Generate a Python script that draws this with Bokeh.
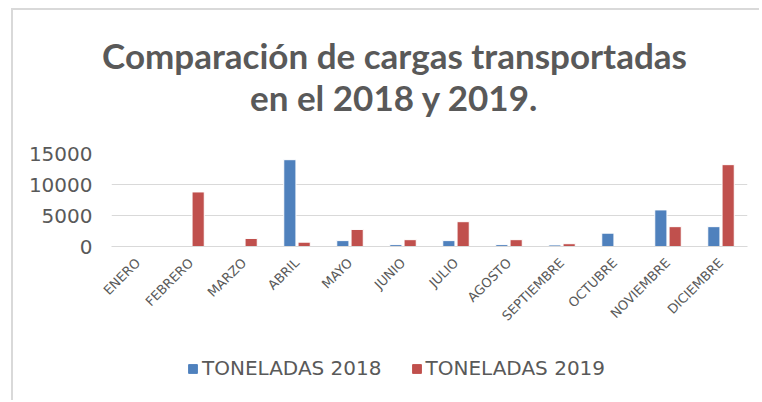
import math
from bokeh.plotting import figure
from bokeh.layouts import column
from bokeh.models import ColumnDataSource, FactorRange, Range1d, FixedTicker, Legend, LegendItem, Label
from bokeh.transform import dodge
from bokeh.embed import file_html
from bokeh.resources import INLINE

months = ["ENERO", "FEBRERO", "MARZO", "ABRIL", "MAYO", "JUNIO", "JULIO",
          "AGOSTO", "SEPTIEMBRE", "OCTUBRE", "NOVIEMBRE", "DICIEMBRE"]
ton_2018 = [0, 0, 0, 14000, 950, 300, 950, 300, 250, 2150, 5900, 3200]
ton_2019 = [0, 8800, 1300, 700, 2750, 1100, 4000, 1100, 450, 0, 3200, 13200]
y_ticks = [0, 5000, 10000, 15000]
series_names = ["TONELADAS 2018", "TONELADAS 2019"]
title_lines = ["Comparación de cargas transportadas", "en el 2018 y 2019."]
colors = ["#4F81BD", "#C0504D"]

src = ColumnDataSource(dict(m=months, a=ton_2018, b=ton_2019))

GREY = "#595959"
W = 746

# ---- title strip ----
TH = 130
pt = figure(width=W, height=TH, x_range=Range1d(0, W), y_range=Range1d(0, TH),
            output_backend="svg", toolbar_location=None, min_border=0)
pt.axis.visible = False
pt.grid.visible = False
pt.outline_line_color = None
pt.title = None
try:
    pt.frame_align = False   # let the title strip use its full width (no frame alignment)
    title_x = 381
except Exception:
    title_x = 339
for txt, yy in zip(title_lines, [86, 44]):
    pt.add_layout(Label(x=title_x, y=yy, text=txt, text_align="center", text_baseline="middle",
                        text_font="Lato", text_font_style="bold", text_font_size="35px",
                        text_color=GREY))

# ---- main chart ----
p = figure(x_range=FactorRange(*months), y_range=Range1d(0, 15000),
           width=W, height=200, output_backend="svg", toolbar_location=None,
           min_border_left=98, min_border_right=12, min_border_top=13, min_border_bottom=94)
p.title = None

r1 = p.vbar(x=dodge("m", -0.135, range=p.x_range), top="a", width=0.23, source=src,
            fill_color=colors[0], line_color="white", line_width=1)
r2 = p.vbar(x=dodge("m", 0.135, range=p.x_range), top="b", width=0.23, source=src,
            fill_color=colors[1], line_color="white", line_width=1)

p.outline_line_color = None
p.xgrid.grid_line_color = None
p.ygrid.grid_line_color = "#d9d9d9"
p.ygrid.grid_line_width = 1
p.yaxis.ticker = FixedTicker(ticks=y_ticks)
p.yaxis.axis_line_color = None
p.yaxis.major_tick_line_color = None
p.yaxis.minor_tick_line_color = None
p.yaxis.major_label_text_font = "DejaVu Sans"
p.yaxis.major_label_text_font_size = "20px"
p.yaxis.major_label_text_color = GREY
p.yaxis.major_label_standoff = 13

p.xaxis.axis_line_color = "#d9d9d9"
p.xaxis.major_tick_line_color = None
p.xaxis.minor_tick_line_color = None
p.xaxis.major_label_orientation = math.pi / 4
p.xaxis.major_label_text_font = "DejaVu Sans"
p.xaxis.major_label_text_font_size = "13px"
p.xaxis.major_label_text_color = GREY
p.xaxis.major_label_standoff = 8

# ---- legend strip (legend swatches come from proxy renderers that draw nothing: top is NaN) ----
pl = figure(width=W, height=60, x_range=Range1d(0, 1), y_range=Range1d(0, 1),
            output_backend="svg", toolbar_location=None, min_border=0)
pl.axis.visible = False
pl.grid.visible = False
pl.outline_line_color = None
pl.title = None
nan = float("nan")
k1 = pl.vbar(x=[nan], top=[nan], width=0.1, fill_color=colors[0], line_color=colors[0])
k2 = pl.vbar(x=[nan], top=[nan], width=0.1, fill_color=colors[1], line_color=colors[1])
legend = Legend(items=[LegendItem(label=series_names[0], renderers=[k1]),
                       LegendItem(label=series_names[1], renderers=[k2])],
                orientation="horizontal", location=(76, 20),
                label_text_font="DejaVu Sans", label_text_font_size="20px", label_text_color=GREY,
                glyph_width=11, glyph_height=11, label_standoff=4, spacing=29,
                border_line_color=None, background_fill_alpha=0, margin=0)
pl.add_layout(legend, "center")

layout = column(pt, p, pl, spacing=0)
layout.styles = {"border-left": "2px solid #d9d9d9", "border-top": "2px solid #d9d9d9",
                 "margin-left": "11px", "margin-top": "8px"}

open("out.html", "w").write(file_html(layout, INLINE))
